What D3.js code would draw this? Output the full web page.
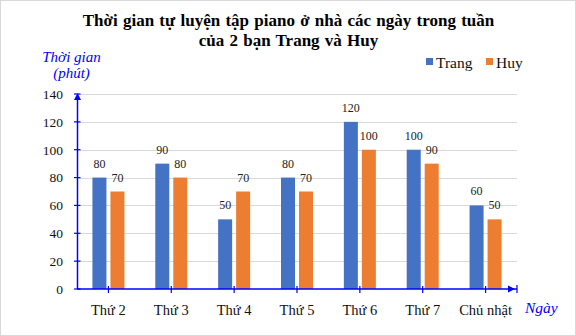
<!DOCTYPE html>
<html>
<head>
<meta charset="utf-8">
<script src="https://cdn.jsdelivr.net/npm/d3@7"></script>
<style>
  html, body { margin: 0; padding: 0; background: #fff; }
  svg { display: block; }
  svg text { font-family: "Liberation Serif", "Times New Roman", serif !important; }
</style>
</head>
<body>
<svg id="chart" width="576" height="336"></svg>
<script>
// Practice minutes per day for each student
const days = ["Thứ 2", "Thứ 3", "Thứ 4", "Thứ 5", "Thứ 6", "Thứ 7", "Chủ nhật"];
const trang = [80, 90, 50, 80, 120, 100, 60];
const huy = [70, 80, 70, 70, 100, 90, 50];
const seriesNames = ["Trang", "Huy"];
const seriesColors = ["#4472C4", "#ED7D31"];
const yTicks = [0, 20, 40, 60, 80, 100, 120, 140];

const W = 576, H = 336;
const margin = { left: 77, right: 59, top: 94, bottom: 47 };
const axisBlue = "#0000FF";

const svg = d3.select("#chart");

// outer frame
svg.append("rect")
  .attr("x", 0.5).attr("y", 0.5)
  .attr("width", W - 1).attr("height", H - 1)
  .attr("fill", "#fff").attr("stroke", "#d9d9d9");

const x0 = d3.scaleBand().domain(days).range([margin.left, W - margin.right]);
const x1 = d3.scaleBand().domain(seriesNames)
  .range([x0.bandwidth() / 2 - 16, x0.bandwidth() / 2 + 16])
  .paddingInner(0.222);
const y = d3.scaleLinear().domain([0, 140]).range([H - margin.bottom, margin.top]);

// title
const title = svg.append("text")
  .attr("text-anchor", "middle")
  .attr("font-weight", "bold")
  .attr("font-size", 17)
  .attr("word-spacing", 1)
  .attr("fill", "#000");
title.append("tspan").attr("x", 288.5).attr("y", 26).text("Thời gian tự luyện tập piano ở nhà  các ngày trong tuần");
title.append("tspan").attr("x", 288.5).attr("y", 46).text("của 2 bạn Trang và Huy");

// gridlines
svg.append("g")
  .selectAll("line")
  .data(yTicks.filter(d => d > 0))
  .join("line")
  .attr("x1", margin.left).attr("x2", W - margin.right)
  .attr("y1", d => Math.round(y(d)) + 0.5).attr("y2", d => Math.round(y(d)) + 0.5)
  .attr("stroke", "#d9d9d9").attr("stroke-width", 1);

// bars
const rows = days.map((d, i) => ({ day: d, values: [trang[i], huy[i]] }));
const groups = svg.append("g").selectAll("g")
  .data(rows)
  .join("g")
  .attr("transform", d => `translate(${x0(d.day)},0)`);

groups.selectAll("rect")
  .data(d => d.values.map((v, k) => ({ name: seriesNames[k], value: v, color: seriesColors[k] })))
  .join("rect")
  .attr("x", d => x1(d.name))
  .attr("width", x1.bandwidth())
  .attr("y", d => y(d.value))
  .attr("height", d => y(0) - y(d.value))
  .attr("fill", d => d.color);

// value labels
groups.selectAll("text")
  .data(d => d.values.map((v, k) => ({ name: seriesNames[k], value: v })))
  .join("text")
  .attr("x", d => x1(d.name) + x1.bandwidth() / 2)
  .attr("y", d => y(d.value) - 10)
  .attr("text-anchor", "middle")
  .attr("font-size", 12)
  .attr("fill", "#222")
  .text(d => d.value);

// y axis labels
const yAxis = d3.axisLeft(y).tickValues(yTicks).tickSize(0).tickPadding(14);
const gy = svg.append("g")
  .attr("transform", `translate(${margin.left},0)`)
  .call(yAxis);
gy.select(".domain").remove();
gy.attr("font-size", null).attr("font-family", null);
gy.selectAll("text")
  .style("font-size", "13.5px")
  .attr("fill", "#111");

svg.append("line")
  .attr("x1", margin.left + 0.5).attr("x2", margin.left + 0.5)
  .attr("y1", y(0)).attr("y2", y(140) + 4)
  .attr("stroke", axisBlue).attr("stroke-width", 1.5);
svg.append("g").selectAll("line")
  .data(yTicks)
  .join("line")
  .attr("x1", margin.left - 3).attr("x2", margin.left + 3.5)
  .attr("y1", d => y(d)).attr("y2", d => y(d))
  .attr("stroke", axisBlue).attr("stroke-width", 1.2);
// up arrow head
svg.append("path")
  .attr("d", `M${margin.left + 0.5},${y(140) - 1} l-3.5,7 l7,0 z`)
  .attr("fill", axisBlue);

// x axis labels
const xAxis = d3.axisBottom(x0).tickSize(0).tickPadding(16);
const gx = svg.append("g")
  .attr("transform", `translate(0,${y(0)})`)
  .call(xAxis);
gx.select(".domain").remove();
gx.attr("font-size", null).attr("font-family", null);
gx.selectAll("text")
  .style("font-size", "14.5px")
  .attr("fill", "#111");

const xEnd = W - margin.right;
svg.append("line")
  .attr("x1", margin.left).attr("x2", xEnd)
  .attr("y1", y(0)).attr("y2", y(0))
  .attr("stroke", axisBlue).attr("stroke-width", 1.5);
svg.append("g").selectAll("line")
  .data(days)
  .join("line")
  .attr("x1", d => x0(d) + x0.bandwidth() / 2).attr("x2", d => x0(d) + x0.bandwidth() / 2)
  .attr("y1", y(0) - 3).attr("y2", y(0) + 4)
  .attr("stroke", axisBlue).attr("stroke-width", 1.2);
svg.append("line")
  .attr("x1", xEnd).attr("x2", xEnd)
  .attr("y1", y(0) - 4).attr("y2", y(0) + 4)
  .attr("stroke", axisBlue).attr("stroke-width", 1.2);
// right arrow head
svg.append("path")
  .attr("d", `M${xEnd - 2},${y(0)} l-7,-3.5 l0,7 z`)
  .attr("fill", axisBlue);

// axis titles
const yTitle = svg.append("text")
  .attr("text-anchor", "middle")
  .attr("font-style", "italic")
  .attr("font-size", 15)
  .attr("fill", axisBlue);
yTitle.append("tspan").attr("x", 71.5).attr("y", 62).text("Thời gian");
yTitle.append("tspan").attr("x", 71.5).attr("y", 78).text("(phút)");

svg.append("text")
  .attr("x", 525).attr("y", 313)
  .attr("font-style", "italic")
  .attr("font-size", 15.5)
  .attr("fill", axisBlue)
  .text("Ngày");

// legend
const legend = svg.append("g").selectAll("g")
  .data(seriesNames)
  .join("g")
  .attr("transform", (d, i) => `translate(${[426, 486][i]},58)`);
legend.append("rect")
  .attr("width", 7).attr("height", 7)
  .attr("fill", (d, i) => seriesColors[i]);
legend.append("text")
  .attr("x", 10).attr("y", 9.5)
  .attr("font-size", 15.5)
  .attr("fill", "#111")
  .text(d => d);
</script>
</body>
</html>
